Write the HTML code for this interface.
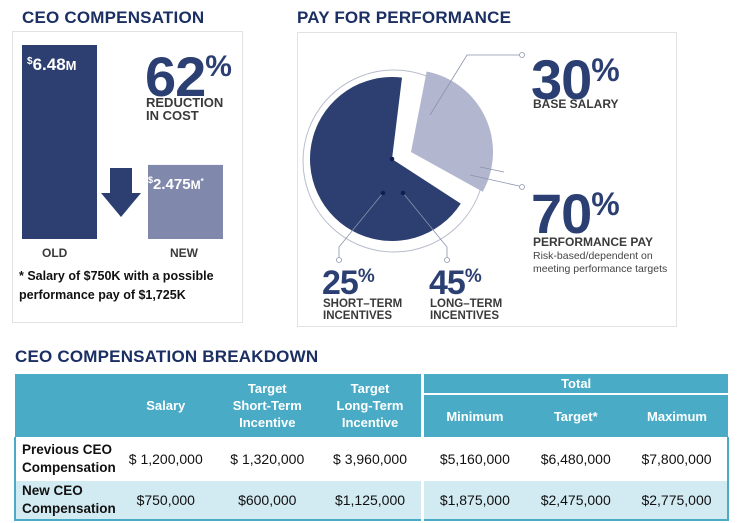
<!DOCTYPE html>
<html><head><meta charset="utf-8"><style>
*{margin:0;padding:0;box-sizing:border-box}
body{width:753px;height:523px;background:#fff;font-family:"Liberation Sans",sans-serif;position:relative;overflow:hidden;color:#1c2d5a}
.abs{position:absolute}
.h{font-weight:bold;color:#1b2f63;font-size:17px;letter-spacing:0.2px}
.big{font-weight:bold;color:#2c3f73;letter-spacing:-1px}
.lbl{font-weight:bold;color:#3a3a3a;font-size:12px;line-height:12px}
table{border-collapse:collapse;position:absolute;left:14px;top:374px;width:715px;font-size:13.5px}
td,th{text-align:center;padding:0}
th{background:#4aabc6;color:#fff;font-weight:bold;font-size:13px;line-height:17px}
td{color:#111;font-size:14px}
td.rl{text-align:left;font-weight:bold;padding-left:6px;line-height:18px;font-size:13.5px}
</style></head><body>
<div class="abs h" style="left:22px;top:8px">CEO COMPENSATION</div>
<div class="abs" style="left:12px;top:31px;width:231px;height:292px;border:1px solid #e2e2e2"></div>
<svg class="abs" style="left:0;top:0" width="300" height="330">
<g id="bars"></g>
<polygon points="110,168 132,168 132,193 141,193 121,217 101,193 110,193" fill="#2d3f70"/>
</svg>
<div class="abs" style="left:27px;top:55px;color:#fff;font-weight:bold;font-size:17px"><span style="font-size:10px;vertical-align:6px">$</span>6.48<span style="font-size:13px">M</span></div>
<div class="abs" style="left:148px;top:175px;color:#fff;font-weight:bold;font-size:15px;white-space:nowrap"><span style="font-size:9px;vertical-align:6px">$</span>2.475<span style="font-size:12px">M</span><span style="font-size:8px;vertical-align:5px">*</span></div>
<div class="abs big" style="left:145px;top:40px;font-size:56px;line-height:54px">62<span style="font-size:30px;vertical-align:20px">%</span></div>
<div class="abs lbl" style="left:146px;top:96px;font-size:13px;line-height:13px">REDUCTION<br>IN COST</div>
<div class="abs lbl" style="left:42px;top:247px">OLD</div>
<div class="abs lbl" style="left:170px;top:247px">NEW</div>
<div class="abs" style="left:19px;top:267px;font-weight:bold;font-size:12.5px;line-height:19px;color:#111">* Salary of $750K with a possible<br>performance pay of $1,725K</div>

<div class="abs h" style="left:297px;top:8px">PAY FOR PERFORMANCE</div>
<div class="abs" style="left:297px;top:32px;width:380px;height:295px;border:1px solid #e2e2e2"></div>
<svg class="abs" style="left:0;top:0" width="753" height="340">
<circle cx="394" cy="161" r="91" fill="none" stroke="#b8bdcc" stroke-width="1"/>
<g id="pie"></g>
<g stroke="#8a93ad" stroke-width="0.8" fill="none">
<polyline points="519,55 467,55 430,115"/>
<polyline points="519,186 470,175"/>
<line x1="480" y1="167" x2="504" y2="172"/>
<polyline points="383,193 339,247 339,257"/>
<polyline points="403,193 447,247 447,257"/>
</g>
<g fill="#fff" stroke="#8a93ad" stroke-width="0.8">
<circle cx="522" cy="55" r="2.5"/><circle cx="522" cy="187" r="2.5"/><circle cx="339" cy="260" r="2.5"/><circle cx="447" cy="260" r="2.5"/>
</g>
<g fill="#0f1f50"><circle cx="392" cy="159" r="2.3"/><circle cx="383" cy="193" r="2.3"/><circle cx="403" cy="193" r="2.3"/></g>
</svg>
<div class="abs big" style="left:531px;top:42px;font-size:56px;line-height:56px">30<span style="font-size:32px;vertical-align:18px">%</span></div>
<div class="abs lbl" style="left:533px;top:98px">BASE SALARY</div>
<div class="abs big" style="left:531px;top:176px;font-size:56px;line-height:56px">70<span style="font-size:32px;vertical-align:18px">%</span></div>
<div class="abs lbl" style="left:533px;top:236px">PERFORMANCE PAY</div>
<div class="abs" style="left:533px;top:250px;font-size:10.5px;line-height:13px;color:#444">Risk-based/dependent on<br>meeting performance targets</div>
<div class="abs big" style="left:322px;top:260px;font-size:34px;line-height:34px">25<span style="font-size:19px;vertical-align:12px">%</span></div>
<div class="abs lbl" style="left:323px;top:298px;font-size:11.5px">SHORT–TERM<br>INCENTIVES</div>
<div class="abs big" style="left:429px;top:260px;font-size:34px;line-height:34px">45<span style="font-size:19px;vertical-align:12px">%</span></div>
<div class="abs lbl" style="left:430px;top:298px;font-size:11.5px">LONG–TERM<br>INCENTIVES</div>

<div class="abs h" style="left:15px;top:347px">CEO COMPENSATION BREAKDOWN</div>
<table>
<tr style="height:20px">
<th rowspan="2" style="width:76px"></th>
<th rowspan="2" style="width:100px">Salary</th>
<th rowspan="2" style="width:103px">Target<br>Short-Term<br>Incentive</th>
<th rowspan="2" style="width:104px;border-right:3px solid #fff">Target<br>Long-Term<br>Incentive</th>
<th colspan="3" style="border-bottom:2px solid #fff">Total</th></tr>
<tr style="height:43px"><th>Minimum</th><th>Target*</th><th>Maximum</th></tr>
<tr style="height:44px;border-left:2px solid #4aabc6;border-right:2px solid #4aabc6">
<td class="rl">Previous CEO<br>Compensation</td><td>$ 1,200,000</td><td>$ 1,320,000</td><td style="border-right:3px solid #fff">$ 3,960,000</td><td>$5,160,000</td><td>$6,480,000</td><td>$7,800,000</td></tr>
<tr style="height:39px;background:#d2eaf2;border-left:2px solid #4aabc6;border-right:2px solid #4aabc6;border-bottom:2px solid #4aabc6">
<td class="rl">New CEO<br>Compensation</td><td>$750,000</td><td>$600,000</td><td style="border-right:3px solid #fff">$1,125,000</td><td>$1,875,000</td><td>$2,475,000</td><td>$2,775,000</td></tr>
</table>
<script>
const barCategories=["OLD","NEW"];
const barValues=[6.48,2.475];
const pieLabels=["Base Salary","Performance Pay"];
const pieValues=[30,70];
const NS="http://www.w3.org/2000/svg";
const yBase=239, yScale=v=>yBase-v*(194/6.48);
const barX=[22,148], barW=75, barColors=["#2d3f70","#8089ac"];
const bg=document.getElementById("bars");
barValues.forEach((v,i)=>{
 const r=document.createElementNS(NS,"rect");
 
 
 r.setAttribute("x",barX[i]);r.setAttribute("y",yScale(v));
 r.setAttribute("width",barW);r.setAttribute("height",yBase-yScale(v));
 r.setAttribute("fill",barColors[i]);bg.appendChild(r);
});
const pg=document.getElementById("pie");
const total=pieValues.reduce((a,b)=>a+b,0);
const mid=-25;
const centres=[[411,152],[392,159]], radii=[82,82], cols=["#b2b7cf","#2d3f70"];
let start=mid-pieValues[0]/total*180;
pieValues.forEach((v,i)=>{
 const sweep=v/total*360;
 let a0=start, a1=start+sweep;
 if(i===1){a0+=4;a1-=4;}
 const [cx,cy]=centres[i], r=radii[i];
 const p=a=>[cx+r*Math.cos(a*Math.PI/180),cy+r*Math.sin(a*Math.PI/180)];
 const s=p(a0),e=p(a1);
 const path=document.createElementNS(NS,"path");
 
 
 path.setAttribute("d",`M${cx},${cy} L${s[0]},${s[1]} A${r},${r} 0 ${sweep>180?1:0} 1 ${e[0]},${e[1]} Z`);
 path.setAttribute("fill",cols[i]);pg.appendChild(path);
 start+=sweep;
});
</script>
</body></html>
